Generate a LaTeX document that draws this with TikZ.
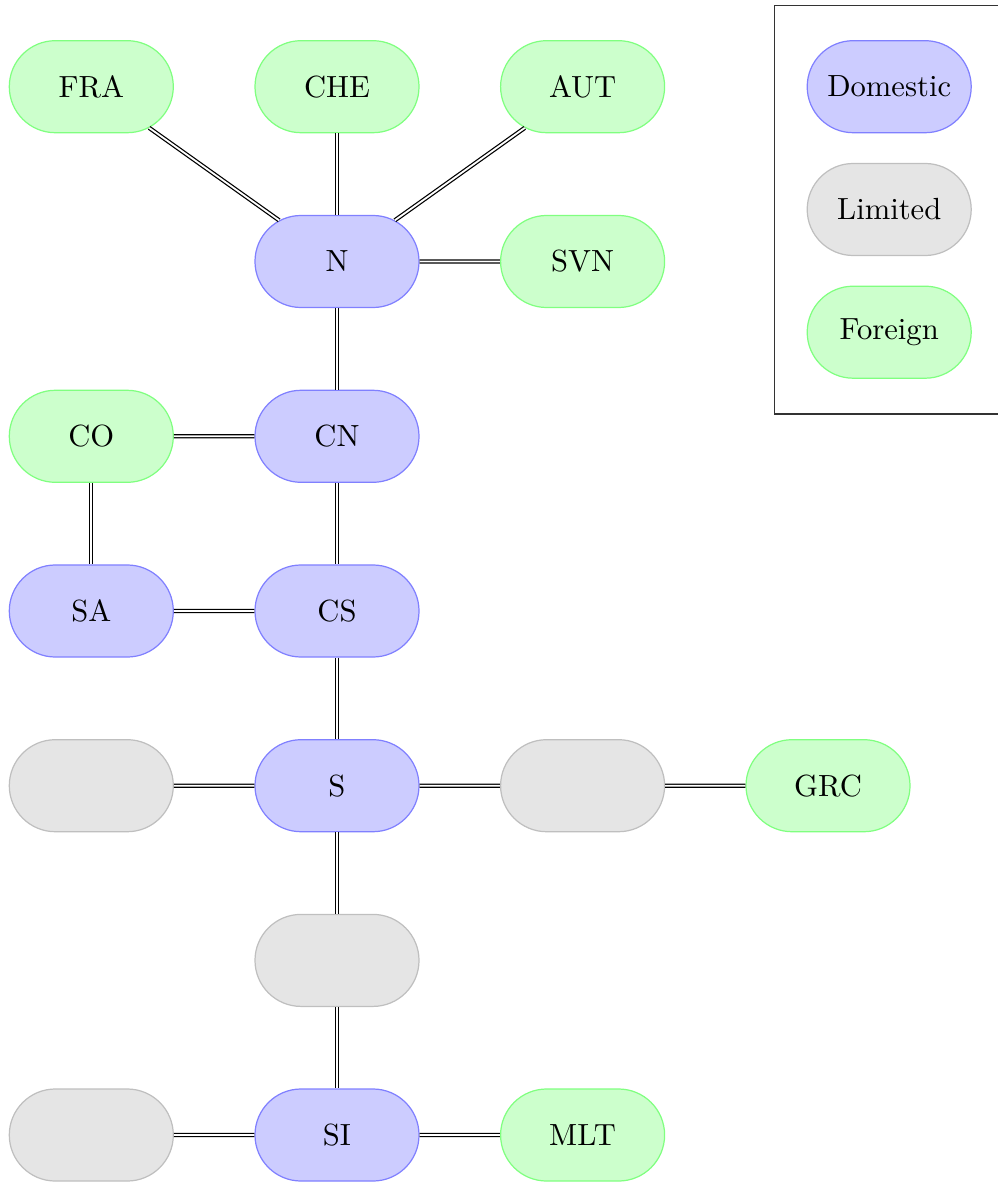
\documentclass[tikz,border=0pt]{standalone}
\usetikzlibrary{shapes.misc}
\newcommand\ctext[1]{\makebox[0pt]{#1}}
\tikzset{
  base/.style={rounded rectangle, minimum width=53.6pt, minimum height=30.07pt, inner sep=0pt},
  dom/.style={base, fill=blue!20, draw=blue!50},
  lim/.style={base, fill=gray!20, draw=gray!50},
  forn/.style={base, fill=green!20, draw=green!50},
  link/.style={double, double distance=0.6pt, line width=0.4pt}
}
\begin{document}
\begin{tikzpicture}[x=0.3268pt, y=-0.3268pt]
\useasboundingbox (0,0) rectangle (997,1182);
% legend
\draw[black!80] (774.7,5.3) rectangle (1003.7,414);
\node[dom]  (ldom) at (889.2,86.7)  {\ctext{Domestic}};
\node[lim]  (llim) at (889.2,209.5) {\ctext{Limited}};
\node[forn] (lfor) at (889.2,332.2) {\ctext{Foreign}};
% row 1
\node[forn] (FRA) at (91.3,86.7) {\ctext{FRA}};
\node[forn] (CHE) at (337,86.7)  {\ctext{CHE}};
\node[forn] (AUT) at (582.6,86.7) {\ctext{AUT}};
% row 2
\node[dom]  (N)   at (337,261.5) {\ctext{N}};
\node[forn] (SVN) at (582.6,261.5) {\ctext{SVN}};
% row 3
\node[forn] (CO)  at (91.3,436.3) {\ctext{CO}};
\node[dom]  (CN)  at (337,436.3) {\ctext{CN}};
% row 4
\node[dom]  (SA)  at (91.3,611) {\ctext{SA}};
\node[dom]  (CS)  at (337,611) {\ctext{CS}};
% row 5
\node[lim]  (L1)  at (91.3,785.7) {};
\node[dom]  (S)   at (337,785.7) {\ctext{S}};
\node[lim]  (L2)  at (582.6,785.7) {};
\node[forn] (GRC) at (828,785.7) {\ctext{GRC}};
% row 6
\node[lim]  (L3)  at (337,960.4) {};
% row 7
\node[lim]  (L4)  at (91.3,1135) {};
\node[dom]  (SI)  at (337,1135) {\ctext{SI}};
\node[forn] (MLT) at (582.6,1135) {\ctext{MLT}};
% connectors
\draw[link] (N) -- (FRA);
\draw[link] (N) -- (CHE);
\draw[link] (N) -- (AUT);
\draw[link] (N) -- (SVN);
\draw[link] (N) -- (CN);
\draw[link] (CN) -- (CO);
\draw[link] (CN) -- (CS);
\draw[link] (CO) -- (SA);
\draw[link] (SA) -- (CS);
\draw[link] (CS) -- (S);
\draw[link] (S) -- (L1);
\draw[link] (S) -- (L2);
\draw[link] (L2) -- (GRC);
\draw[link] (S) -- (L3);
\draw[link] (L3) -- (SI);
\draw[link] (SI) -- (L4);
\draw[link] (SI) -- (MLT);
\end{tikzpicture}
\end{document}
